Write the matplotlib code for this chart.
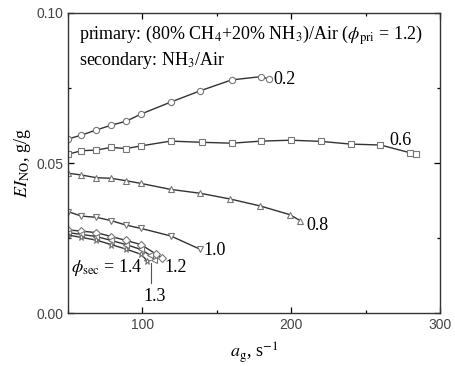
import numpy as np
import matplotlib
matplotlib.use('Agg')
import matplotlib.pyplot as plt
from matplotlib.ticker import MultipleLocator

plt.rcParams['mathtext.fontset'] = 'stix'
plt.rcParams['font.family'] = ['Liberation Serif', 'DejaVu Serif']

# phi_sec = 0.2 (circles)
x02 = [50, 59, 69, 79, 89, 99, 119, 139, 160, 180, 185]
y02 = [0.058, 0.0593, 0.061, 0.0626, 0.0639, 0.0663, 0.0703, 0.0741, 0.0777, 0.0788, 0.0779]
# 0.6 (squares)
x06 = [50, 59, 69, 79, 89, 99, 119, 140, 160, 180, 200, 220, 240, 260, 280, 284]
y06 = [0.0529, 0.0541, 0.0543, 0.0552, 0.0548, 0.0557, 0.0573, 0.0569, 0.0566, 0.0573,
       0.0576, 0.0572, 0.0563, 0.056, 0.0534, 0.0529]
# 0.8 (up triangles)
x08 = [50, 59, 69, 79, 89, 99, 119, 139, 159, 179, 199, 206]
y08 = [0.0466, 0.046, 0.0451, 0.0449, 0.0441, 0.0432, 0.0412, 0.0399, 0.038, 0.0357, 0.0328, 0.0308]
# 1.0 (down triangles)
x10 = [50, 59, 69, 79, 89, 99, 119, 139]
y10 = [0.0338, 0.0323, 0.0319, 0.0308, 0.0293, 0.0282, 0.0257, 0.0212]
# 1.2 (diamonds)
x12 = [50, 59, 69, 79, 89, 99, 109, 113]
y12 = [0.0277, 0.0273, 0.0268, 0.0255, 0.0242, 0.0228, 0.0197, 0.0182]
# 1.3
x13 = [50, 59, 69, 79, 89, 99, 105, 108]
y13 = [0.0268, 0.0262, 0.0255, 0.0242, 0.0228, 0.0212, 0.0193, 0.0178]
# 1.4
x14 = [50, 59, 69, 79, 89, 99, 103]
y14 = [0.026, 0.0252, 0.0243, 0.0228, 0.0213, 0.0196, 0.0175]

series = [(x02, y02, 'o'), (x06, y06, 's'), (x08, y08, '^'), (x10, y10, 'v'),
          (x12, y12, 'D'), (x13, y13, '<'), (x14, y14, '*')]

fig = plt.figure(figsize=(4.55, 3.67), dpi=100)
ax = fig.add_axes([0.1495, 0.1471, 0.8175, 0.8175])

for xs, ys, m in series:
    ms = 4.5 if m != 'D' else 3.8
    ax.plot(xs, ys, color='#333333', lw=1.0, marker=m, ms=ms,
            mfc='white', mec='#777777', mew=0.8)

ax.set_xlim(50, 300)
ax.set_ylim(0, 0.10)
ax.xaxis.set_major_locator(MultipleLocator(100))
ax.xaxis.set_minor_locator(MultipleLocator(50))
ax.yaxis.set_major_locator(MultipleLocator(0.05))
ax.yaxis.set_minor_locator(MultipleLocator(0.025))
ax.tick_params(which='both', direction='in', top=True, right=True, labelsize=10,
               labelcolor='#444444')
ax.tick_params(which='major', length=4, width=0.9)
ax.tick_params(which='minor', length=2, width=0.9)
for lab in ax.get_xticklabels() + ax.get_yticklabels():
    lab.set_family('Liberation Sans')
ax.yaxis.set_major_formatter(matplotlib.ticker.FormatStrFormatter('%.2f'))
for s in ax.spines.values():
    s.set_linewidth(1.0)
    s.set_color('#333333')

ax.set_xlabel(r'$a_{\mathrm{g}}$, s$^{-1}$', fontsize=13, labelpad=6)
ax.set_ylabel(r'$EI_{\mathrm{NO}}$, g/g', fontsize=13, labelpad=2)

ax.text(0.03, 0.965, r'primary: (80% CH$_4$+20% NH$_3$)/Air ($\phi_{\mathrm{pri}}$ = 1.2)',
        transform=ax.transAxes, fontsize=13, va='top')
ax.text(0.03, 0.875, r'secondary: NH$_3$/Air', transform=ax.transAxes, fontsize=13, va='top')

fs = 13
ax.text(188, 0.0777, '0.2', fontsize=fs, va='center')
ax.text(266, 0.0575, '0.6', fontsize=fs, va='center')
ax.text(210, 0.0293, '0.8', fontsize=fs, va='center')
ax.text(141, 0.021, '1.0', fontsize=fs, va='center')
ax.text(115, 0.0153, '1.2', fontsize=fs, va='center')
ax.text(52, 0.0153, r'$\phi_{\mathrm{sec}}$ = 1.4', fontsize=fs, va='center')
ax.text(101, 0.0055, '1.3', fontsize=fs, va='center')
ax.plot([106, 106], [0.0167, 0.0100], color='#555555', lw=0.8)

fig.savefig('out.png', dpi=100)
